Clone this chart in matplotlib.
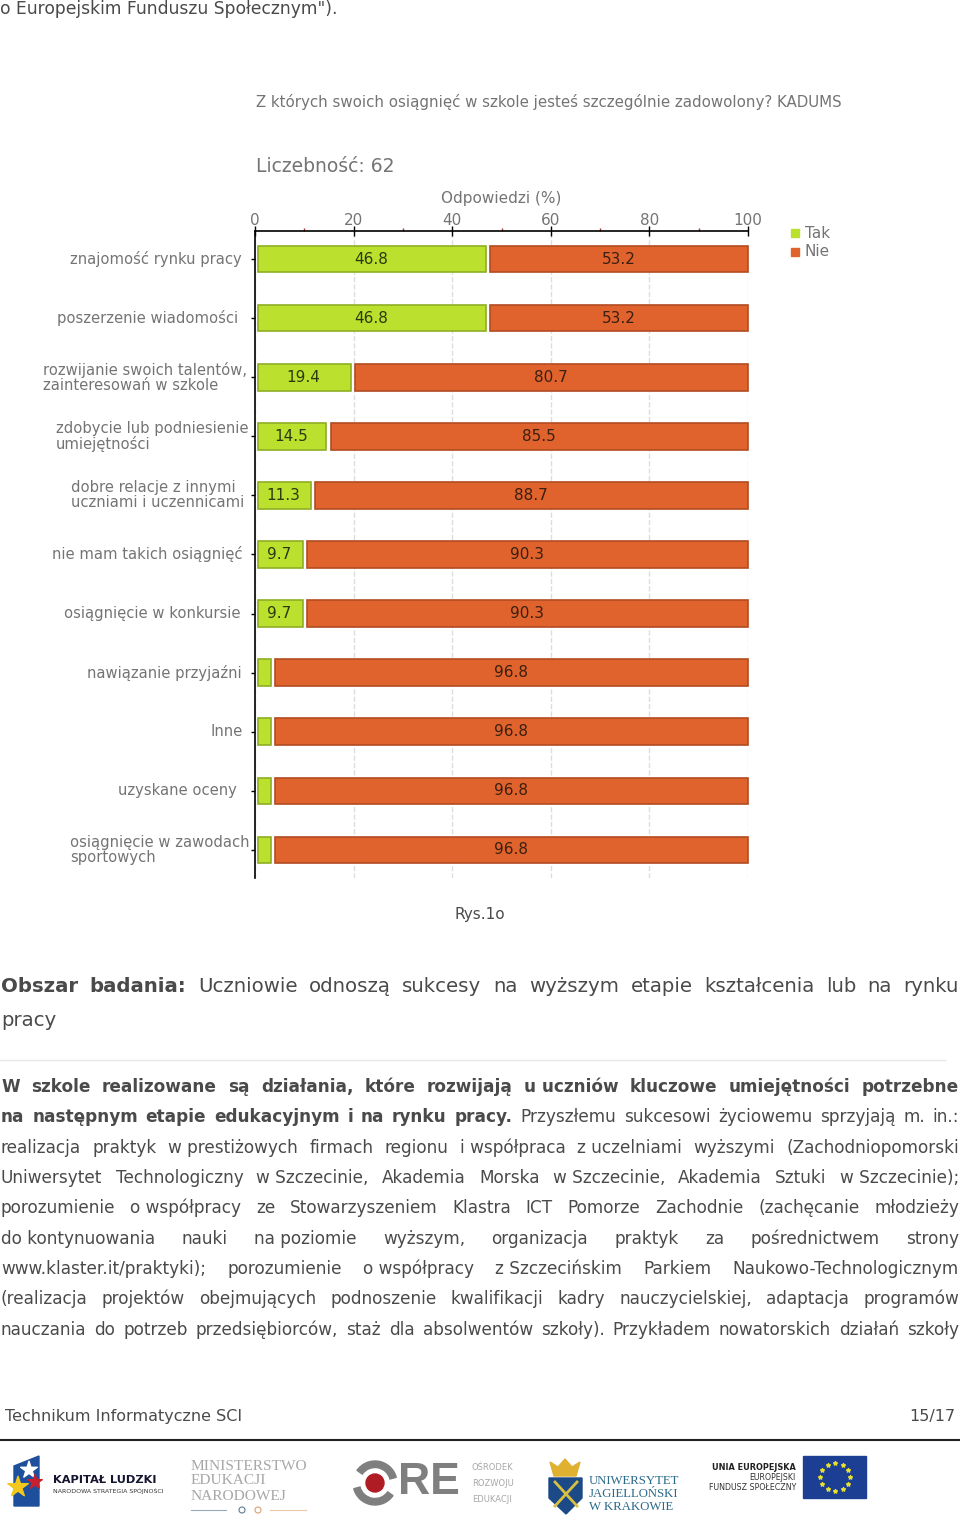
import numpy as np
import matplotlib
matplotlib.use("Agg")
import matplotlib.pyplot as plt
from matplotlib.patches import Rectangle, Circle, Polygon, Wedge
from matplotlib.transforms import blended_transform_factory

categories = ["znajomość rynku pracy", "poszerzenie wiadomości",
              "rozwijanie swoich talentów,\nzainteresowań w szkole",
              "zdobycie lub podniesienie\numiejętności",
              "dobre relacje z innymi\nuczniami i uczennicami",
              "nie mam takich osiągnięć", "osiągnięcie w konkursie",
              "nawiązanie przyjaźni", "Inne", "uzyskane oceny",
              "osiągnięcie w zawodach\nsportowych"]
tak = [46.8, 46.8, 19.4, 14.5, 11.3, 9.7, 9.7, 3.2, 3.2, 3.2, 3.2]
nie = [53.2, 53.2, 80.7, 85.5, 88.7, 90.3, 90.3, 96.8, 96.8, 96.8, 96.8]
major_ticks = [0, 20, 40, 60, 80, 100]
minor_ticks = [10, 30, 50, 70, 90]
label_left = [70, 57, 43, 56, 71, 52, 64, 87, 210, 118, 70]

heading = [[("Obszar badania:", True), ("Uczniowie odnoszą sukcesy na wyższym etapie kształcenia lub na rynku", False)]]
body = [
    [("W szkole realizowane są działania, które rozwijają u\u00a0uczniów kluczowe umiejętności potrzebne", True)],
    [("na następnym etapie edukacyjnym i na rynku pracy.", True), ("Przyszłemu sukcesowi życiowemu sprzyjają m. in.:", False)],
    [("realizacja praktyk w\u00a0prestiżowych firmach regionu i\u00a0współpraca z\u00a0uczelniami wyższymi (Zachodniopomorski", False)],
    [("Uniwersytet Technologiczny w\u00a0Szczecinie, Akademia Morska w\u00a0Szczecinie, Akademia Sztuki w\u00a0Szczecinie);", False)],
    [("porozumienie o\u00a0współpracy ze Stowarzyszeniem Klastra ICT Pomorze Zachodnie (zachęcanie młodzieży", False)],
    [("do\u00a0kontynuowania nauki na\u00a0poziomie wyższym, organizacja praktyk za pośrednictwem strony", False)],
    [("www.klaster.it/praktyki); porozumienie o\u00a0współpracy z\u00a0Szczecińskim Parkiem Naukowo-Technologicznym", False)],
    [("(realizacja projektów obejmujących podnoszenie kwalifikacji kadry nauczycielskiej, adaptacja programów", False)],
    [("nauczania do potrzeb przedsiębiorców, staż dla absolwentów szkoły). Przykładem nowatorskich działań szkoły", False)],
]
body_y = [1087, 1117, 1148, 1178, 1208, 1239, 1269, 1299, 1330]

TEXT = "#4a4a4a"
GRAY = "#747474"

fig = plt.figure(figsize=(9.6, 15.28), dpi=100, facecolor="white")
page = fig.add_axes([0, 0, 1, 1])
page.set_xlim(0, 960)
page.set_ylim(1528, 0)
page.axis("off")
renderer = fig.canvas.get_renderer()


def justified(line, y, size, x0=1, x1=959):
    # lay the words out so the line fills x0..x1
    items = []
    for text, bold in line:
        for w in text.split(" "):
            t = page.text(x0, y, w, fontsize=size, color=TEXT, va="center",
                          fontweight="bold" if bold else "normal")
            items.append((t, t.get_window_extent(renderer).width))
    gap = (x1 - x0 - sum(w for _, w in items)) / (len(items) - 1)
    x = x0
    for t, w in items:
        t.set_x(x)
        x += w + gap


page.text(0, 9, "o Europejskim Funduszu Społecznym\").", fontsize=12.3, color=TEXT, va="center")

# chart
W, H = 960, 1528
ax = fig.add_axes([255 / W, 1 - 878 / H, (748 - 255) / W, (878 - 231) / H])
y = np.arange(len(categories))
ax.set_xlim(0, 100)
ax.set_ylim(10.474, -0.474)
ax.set_axisbelow(True)
ax.set_facecolor("none")
ax.xaxis.tick_top()
ax.set_xticks(major_ticks)
ax.set_xticks(minor_ticks, minor=True)
ax.tick_params(axis="x", which="major", direction="inout", length=7, width=1, color="black", pad=-1,
               labelsize=11, labelcolor=GRAY)
ax.tick_params(axis="x", which="minor", length=2.5, width=1, color="#b03030")
ax.set_yticks(y)
ax.set_yticklabels([])
ax.tick_params(axis="y", length=3, width=1, color="black")
ax.grid(axis="x", which="major", color="#dddddd", linestyle="--", linewidth=1)
for s in ["right", "bottom"]:
    ax.spines[s].set_visible(False)
for s in ["top", "left"]:
    ax.spines[s].set_linewidth(1.2)

tak = np.array(tak)
nie = np.array(nie)
ax.barh(y, tak - 0.7, left=0.7, height=0.45, color="#bce02e", edgecolor="#8fae25", linewidth=1.2, clip_on=False)
ax.barh(y, 100 - (tak + 0.9), left=tak + 0.9, height=0.45, color="#e0622c", edgecolor="#b24c20", linewidth=1.2,
        clip_on=False)
for i in y:
    if tak[i] > 5:
        ax.text(tak[i] / 2 + 0.1, i, f"{tak[i]:.1f}", ha="center", va="center", fontsize=11, color="#2a3a10")
    ax.text(100 - nie[i] / 2 + 0.4, i, f"{nie[i]:.1f}", ha="center", va="center", fontsize=11, color="#3a2010")

trans = blended_transform_factory(page.transData, ax.transData)
for i, lab in enumerate(categories):
    ax.text(label_left[i], i, lab, transform=trans, ha="left", va="center", fontsize=10.6,
            color=GRAY, linespacing=1.0, clip_on=False)

page.text(256, 102, "Z których swoich osiągnięć w szkole jesteś szczególnie zadowolony? KADUMS",
          fontsize=10.8, color=GRAY, va="center")
page.text(256, 166, "Liczebność: 62", fontsize=13.5, color=GRAY, va="center")
page.text(501, 198, "Odpowiedzi (%)", fontsize=11, color=GRAY, va="center", ha="center")
page.add_patch(Rectangle((791, 229), 8, 8, color="#bce02e"))
page.add_patch(Rectangle((791, 248), 8, 8, color="#e0622c"))
page.text(805, 233, "Tak", fontsize=11, color=GRAY, va="center")
page.text(805, 252, "Nie", fontsize=11, color=GRAY, va="center")
page.text(480, 914, "Rys.1o", fontsize=11, color=TEXT, va="center", ha="center")

# text below the chart
justified(heading[0], 986, 14.2)
page.text(1, 1021, "pracy", fontsize=14.2, color=TEXT, va="center")
page.plot([0, 945], [1060, 1060], color="#e8e8e8", lw=1)
for line, ly in zip(body, body_y):
    justified(line, ly, 12.2)

page.text(5, 1417, "Technikum Informatyczne SCI", fontsize=11.5, color=TEXT, va="center")
page.text(955, 1417, "15/17", fontsize=11.5, color=TEXT, va="center", ha="right")
page.plot([0, 960], [1440, 1440], color="#222222", lw=1.5)

# logos
page.add_patch(Polygon([(14, 1466), (39, 1456), (39, 1506), (14, 1506)], color="#1d4f9c"))
page.scatter([29, 18, 35], [1470, 1487, 1482], marker="*", s=[160, 240, 120],
             c=["white", "#f2c81e", "#c8202c"], zorder=3)
page.text(53, 1480, "KAPITAŁ LUDZKI", fontsize=8.2, fontweight="bold", color="#151530", va="center")
page.text(53, 1491, "NARODOWA STRATEGIA SPÓJNOŚCI", fontsize=4.5, color="#333333", va="center")
for ty, tx in zip([1466, 1481, 1497], ["MINISTERSTWO", "EDUKACJI", "NARODOWEJ"]):
    page.text(191, ty, tx, fontsize=11.1, family="Liberation Serif", color="#a8a8a8", va="center")
page.plot([191, 226], [1510, 1510], color="#9aa8b8", lw=0.8)
page.plot([270, 306], [1510, 1510], color="#e8c8a8", lw=0.8)
page.add_patch(Circle((242, 1510), 3, fill=False, ec="#607890", lw=0.8))
page.add_patch(Circle((258, 1510), 3, fill=False, ec="#d8a070", lw=0.8))
for a, b in [(35, 165), (215, 345)]:
    page.add_patch(Wedge((375, 1483), 22, a, b, width=6.5, color="#7f7f7f"))
page.add_patch(Circle((375, 1483), 9, color="#b01c24"))
page.text(398, 1483, "RE", fontsize=32, color="#7f7f7f", va="center", fontweight="bold",
          family="Liberation Sans")
for ty, tx in zip([1468, 1484, 1500], ["OŚRODEK", "ROZWOJU", "EDUKACJI"]):
    page.text(472, ty, tx, fontsize=6, color="#a8a8a8", va="center")
page.add_patch(Polygon([(549, 1478), (582, 1478), (582, 1498), (566, 1514), (549, 1498)], color="#1c4a86"))
page.plot([555, 577], [1482, 1506], color="#d8c040", lw=2)
page.plot([577, 555], [1482, 1506], color="#d8c040", lw=2)
page.add_patch(Polygon([(550, 1462), (558, 1467), (565, 1459), (572, 1467), (580, 1462), (576, 1476), (554, 1476)], color="#e0b030"))
for ty, tx in zip([1481, 1494, 1507], ["UNIWERSYTET", "JAGIELLOŃSKI", "W KRAKOWIE"]):
    page.text(589, ty, tx, fontsize=9.2, family="Liberation Serif", color="#2a6a8a", va="center")
page.text(796, 1467, "UNIA EUROPEJSKA", fontsize=5.9, fontweight="bold", color="#222222", va="center", ha="right")
page.text(796, 1477, "EUROPEJSKI", fontsize=5.7, color="#333333", va="center", ha="right")
page.text(796, 1487, "FUNDUSZ SPOŁECZNY", fontsize=5.7, color="#333333", va="center", ha="right")
page.add_patch(Rectangle((803, 1456), 63, 42, color="#1c3f94"))
ang = np.deg2rad(np.arange(0, 360, 30))
page.scatter(835 + 15 * np.cos(ang), 1477 + 14 * np.sin(ang), marker="*", s=8, c="#e8e030", zorder=3)

fig.savefig("out.png", dpi=100, facecolor="white")
